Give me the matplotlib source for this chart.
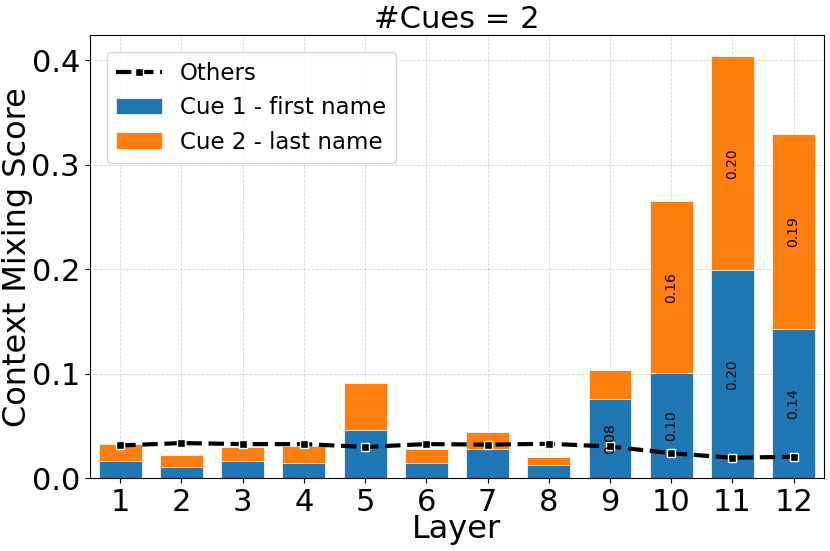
import matplotlib
matplotlib.use("Agg")
import matplotlib.pyplot as plt
import numpy as np

# values
layers = np.arange(1, 13)
cue1 = [0.0167, 0.0110, 0.0167, 0.0150, 0.0460, 0.0150, 0.0280, 0.0130, 0.0760, 0.1005, 0.1990, 0.1430]
cue2 = [0.0163, 0.0110, 0.0133, 0.0160, 0.0450, 0.0130, 0.0160, 0.0070, 0.0280, 0.1645, 0.2047, 0.1860]
others = [0.0314, 0.0337, 0.0327, 0.0327, 0.0300, 0.0327, 0.0322, 0.0330, 0.0304, 0.0240, 0.0196, 0.0206]

label_min = 0.05

fig, ax = plt.subplots(figsize=(8.3, 5.51), dpi=100)

b1 = ax.bar(layers, cue1, width=0.7, color="#1f77b4", edgecolor="white", linewidth=0.5,
            label="Cue 1 - first name", zorder=2)
b2 = ax.bar(layers, cue2, width=0.7, bottom=cue1, color="#ff7f0e", edgecolor="white",
            linewidth=0.5, label="Cue 2 - last name", zorder=2)
ln, = ax.plot(layers, others, linestyle="--", color="black", linewidth=3, marker="s",
              markersize=6, markerfacecolor="black", markeredgecolor="white",
              markeredgewidth=1, label="Others", zorder=3)

# segment labels
for x, a, b in zip(layers, cue1, cue2):
    if a > label_min:
        ax.text(x, a / 2, f"{a:.2f}", rotation=90, ha="center", va="center", fontsize=10, zorder=4)
    if b > label_min:
        ax.text(x, a + b / 2, f"{b:.2f}", rotation=90, ha="center", va="center", fontsize=10, zorder=4)

ax.set_xticks(layers)
ax.set_xlim(0.5, 12.5)
ax.tick_params(axis="both", labelsize=22)
ax.set_xlabel("Layer", fontsize=23, labelpad=-2)
ax.set_ylabel("Context Mixing Score", fontsize=23, labelpad=-1)
ax.set_title("#Cues = 2", fontsize=22, pad=5)
ax.grid(True, linestyle="--", linewidth=0.6, alpha=0.5, zorder=0)
ax.set_axisbelow(True)

ax.legend(handles=[ln, b1, b2], loc="upper left", fontsize=16.5, borderaxespad=0.75)

fig.subplots_adjust(left=0.108, right=0.993, top=0.936, bottom=0.132)
plt.savefig("out.png", dpi=100)
